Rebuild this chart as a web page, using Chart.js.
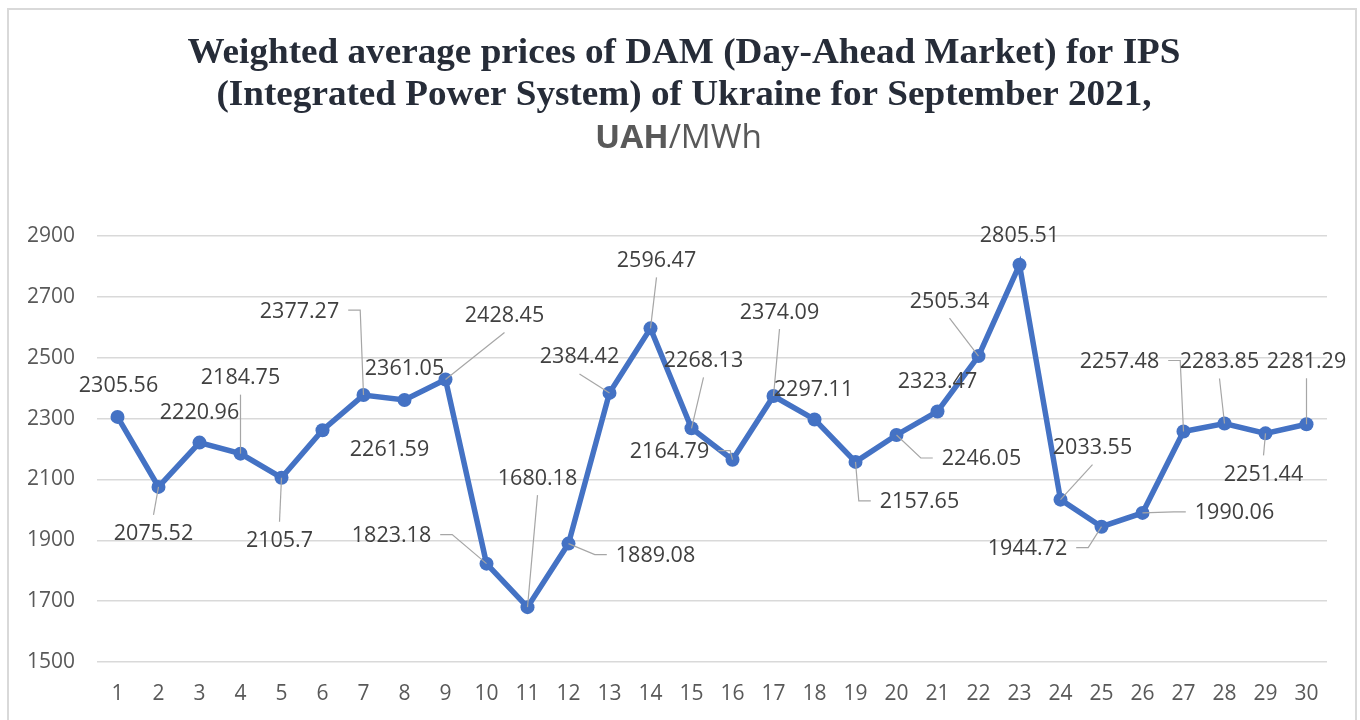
<!DOCTYPE html>
<html>
<head>
<meta charset="utf-8">
<style>
  html, body { margin: 0; padding: 0; background: #fff; }
  #priceChart { display: block; }
</style>
<script src="https://cdn.jsdelivr.net/npm/chart.js@4.4.0/dist/chart.umd.min.js"></script>
</head>
<body>
<canvas id="priceChart" width="1360" height="720"></canvas>
<script>
// dani po dnyam veresnya 2021
const days = ['1', '2', '3', '4', '5', '6', '7', '8', '9', '10',
  '11', '12', '13', '14', '15', '16', '17', '18', '19', '20',
  '21', '22', '23', '24', '25', '26', '27', '28', '29', '30'];

const prices = [2305.56, 2075.52, 2220.96, 2184.75, 2105.7, 2261.59, 2377.27, 2361.05, 2428.45, 1823.18,
  1680.18, 1889.08, 2384.42, 2596.47, 2268.13, 2164.79, 2374.09, 2297.11, 2157.65, 2246.05,
  2323.47, 2505.34, 2805.51, 2033.55, 1944.72, 1990.06, 2257.48, 2283.85, 2251.44, 2281.29];

const yTicks = [1500, 1700, 1900, 2100, 2300, 2500, 2700, 2900];

const titleLines = [
  'Weighted average prices of DAM (Day-Ahead Market) for IPS',
  '(Integrated Power System) of Ukraine for September 2021,'
];
const unitBold = 'UAH';
const unitRest = '/MWh';

// zsuv pidpysiv vid tochky (px) i typ vynosky: '' - nema, 'v' - zverhu/znyzu, 'h' - zboku
const labelDx = [1, -5, 0, 0, -2, 67, -64, 0, 59, -95, 10, 87, -30, 6, 12, -63, 6, -1, 64, 85, 0, -29, 0, 32, -74, 92, -64, -5, -2, 0];
const labelDy = [-32, 46, -31, -77, 62, 18, -85, -32, -65, -29, -130, 11, -37, -69, -69, -9, -85, -31, 39, 23, -31, -56, -30, -53, 21, -1, -71, -63, 40, -64];
const leaders = ['', 'v', '', 'v', 'v', '', 'h', '', 'v', 'h', 'v', 'h', 'v', 'v', 'v', 'h', 'v', '', 'h', 'h', '', 'v', '', 'v', 'h', 'h', 'h', 'v', 'v', 'v'];

const labelFont = '21.5px "Open Sans"';

const dataLabels = {
  id: 'dataLabels',
  afterDatasetsDraw(chart) {
    const ctx = chart.ctx;
    const meta = chart.getDatasetMeta(0);
    ctx.save();
    ctx.font = labelFont;
    meta.data.forEach((pt, i) => {
      const text = String(prices[i]);
      const lx = pt.x + labelDx[i];
      const ly = pt.y + labelDy[i];
      const w = ctx.measureText(text).width;

      if (leaders[i]) {
        ctx.strokeStyle = '#a6a6a6';
        ctx.lineWidth = 1.2;
        ctx.beginPath();
        if (leaders[i] === 'v') {
          const sy = labelDy[i] < 0 ? ly + 18 : ly - 18;
          ctx.moveTo(lx, sy);
        } else {
          const dir = labelDx[i] < 0 ? 1 : -1;
          const sx = lx + dir * (w / 2 + 9);
          ctx.moveTo(sx, ly);
          ctx.lineTo(sx + dir * 12, ly);
        }
        ctx.lineTo(pt.x, pt.y);
        ctx.stroke();
      }

      ctx.fillStyle = '#404040';
      ctx.textAlign = 'center';
      ctx.textBaseline = 'alphabetic';
      ctx.fillText(text, lx, ly + 7.5);
    });
    ctx.restore();
  }
};

const header = {
  id: 'header',
  afterDraw(chart) {
    const ctx = chart.ctx;
    ctx.save();
    // ramka
    ctx.strokeStyle = '#d9d9d9';
    ctx.lineWidth = 2;
    ctx.strokeRect(8, 9, 1348, 740);

    // zaholovok
    ctx.fillStyle = '#262c38';
    ctx.font = 'bold 36px "Liberation Serif"';
    ctx.textBaseline = 'alphabetic';
    ctx.textAlign = 'center';
    const w1 = ctx.measureText(titleLines[0]).width;
    const sx = 993 / w1;
    [63, 105].forEach((base, k) => {
      ctx.save();
      ctx.translate(684, base);
      ctx.scale(sx, 1);
      ctx.fillText(titleLines[k], 0, 0);
      ctx.restore();
    });

    // odynytsi
    ctx.fillStyle = '#595959';
    ctx.textAlign = 'left';
    ctx.font = 'bold 32px "Open Sans"';
    const wb = ctx.measureText(unitBold).width;
    ctx.font = '32px "Open Sans"';
    const wr = ctx.measureText(unitRest).width;
    const su = 167 / (wb + wr);
    ctx.translate(595, 148);
    ctx.scale(su, 1);
    ctx.font = 'bold 32px "Open Sans"';
    ctx.fillText(unitBold, 0, 0);
    ctx.font = '32px "Open Sans"';
    ctx.fillText(unitRest, wb, 0);
    ctx.restore();
  }
};

const ctx = document.getElementById('priceChart').getContext('2d');

new Chart(ctx, {
  type: 'line',
  data: {
    labels: days,
    datasets: [{
      label: 'UAH/MWh',
      data: prices,
      borderColor: '#4472C4',
      backgroundColor: '#4472C4',
      borderWidth: 5.5,
      pointRadius: 7,
      pointBorderWidth: 0,
      pointBackgroundColor: '#4472C4',
      tension: 0
    }]
  },
  options: {
    responsive: false,
    animation: false,
    devicePixelRatio: 1,
    layout: {
      padding: { top: 236, right: 33, bottom: 0, left: 0 }
    },
    plugins: {
      legend: { display: false },
      title: { display: false },
      tooltip: { enabled: false }
    },
    scales: {
      x: {
        offset: true,
        grid: { display: false, drawTicks: false },
        border: { display: false },
        ticks: {
          color: '#595959',
          font: { family: 'Open Sans', size: 21 },
          padding: 19,
          maxRotation: 0,
          autoSkip: false
        },
        afterFit(scale) { scale.height = 58; }
      },
      y: {
        min: 1500,
        max: 2900,
        afterBuildTicks(scale) {
          scale.ticks = yTicks.map(v => ({ value: v }));
        },
        grid: { color: '#d9d9d9', lineWidth: 1.5, drawTicks: false },
        border: { display: false },
        ticks: {
          color: '#595959',
          font: { family: 'Open Sans', size: 21 },
          padding: 22,
          callback: value => String(value)
        },
        afterFit(scale) { scale.width = 97; }
      }
    }
  },
  plugins: [dataLabels, header]
});
</script>
</body>
</html>
